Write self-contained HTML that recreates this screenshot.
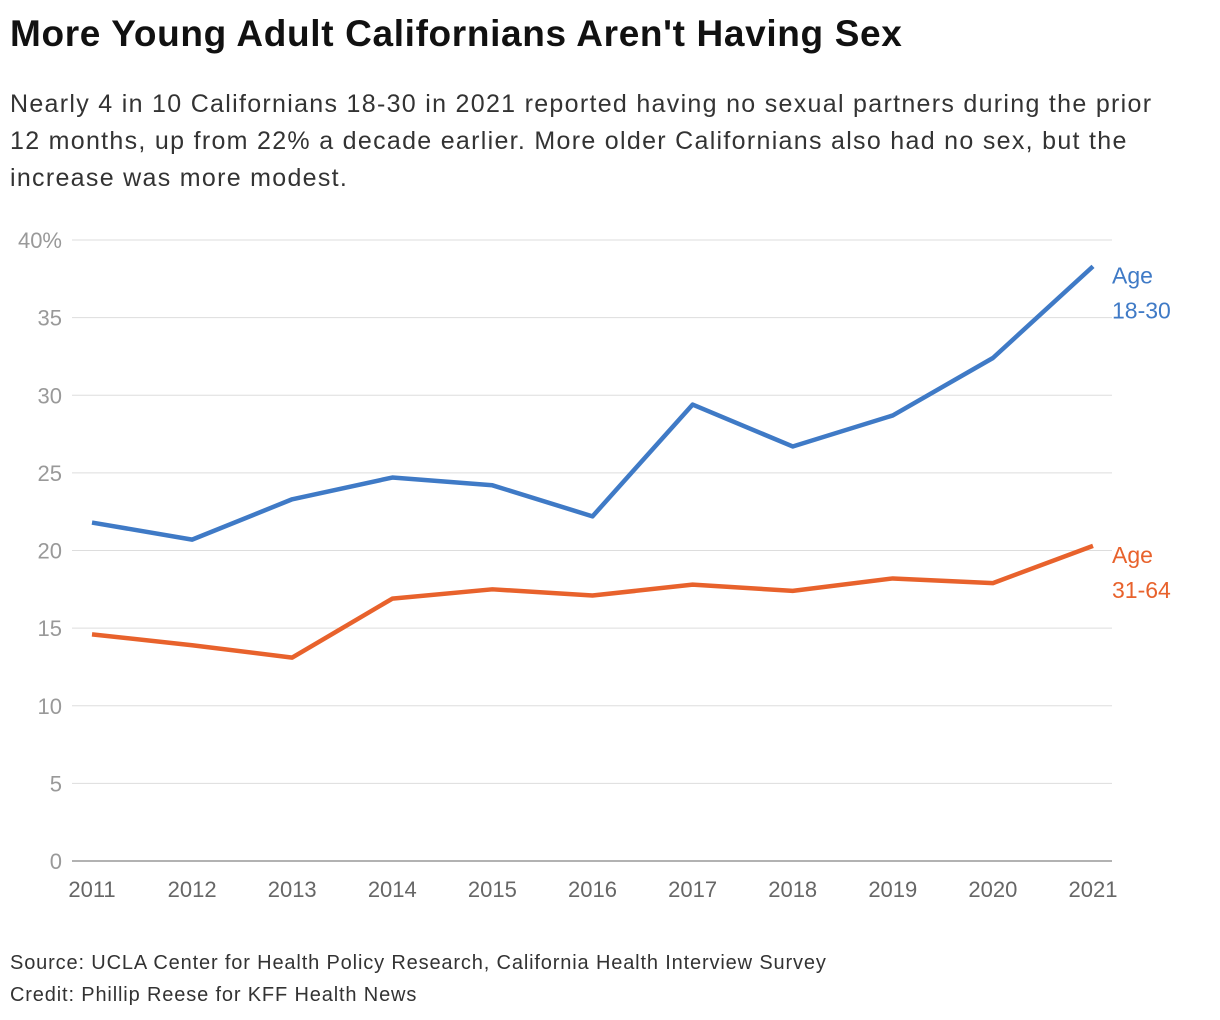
<!DOCTYPE html>
<html><head><meta charset="utf-8"><style>
body{margin:0;background:#fff;width:1220px;height:1020px;overflow:hidden;font-family:"Liberation Sans",sans-serif;}
h1{position:absolute;left:10px;top:13px;margin:0;font-size:37px;font-weight:bold;color:#111;letter-spacing:0.65px;white-space:nowrap}
.sub{position:absolute;left:10px;top:86px;width:1210px;font-size:25px;line-height:37px;color:#333;letter-spacing:1.3px;white-space:nowrap}
.foot{position:absolute;left:10px;font-size:20px;color:#333;letter-spacing:0.85px;white-space:nowrap}
</style></head><body>
<h1>More Young Adult Californians Aren't Having Sex</h1>
<div class="sub">Nearly 4 in 10 Californians 18-30 in 2021 reported having no sexual partners during the prior<br>12 months, up from 22% a decade earlier. More older Californians also had no sex, but the<br>increase was more modest.</div>
<svg id="chart" width="1220" height="1020" style="position:absolute;left:0;top:0"></svg>
<div class="foot" style="top:952px">Source: UCLA Center for Health Policy Research, California Health Interview Survey</div>
<div class="foot" style="top:984px">Credit: Phillip Reese for KFF Health News</div>
<script>
const years=[2011,2012,2013,2014,2015,2016,2017,2018,2019,2020,2021];
const young=[21.8,20.7,23.3,24.7,24.2,22.2,29.4,26.7,28.7,32.4,38.3];
const older=[14.6,13.9,13.1,16.9,17.5,17.1,17.8,17.4,18.2,17.9,20.3];
const yTicks=[0,5,10,15,20,25,30,35,40];
const yTickLabels=["0","5","10","15","20","25","30","35","40%"];
const svg=document.getElementById('chart');
const NS='http://www.w3.org/2000/svg';
const x=v=>92+(v-2011)*100.1;
const y=v=>861-v*15.525;
function mk(t,a){const e=document.createElementNS(NS,t);for(const k in a)e.setAttribute(k,a[k]);svg.appendChild(e);return e;}
yTicks.forEach((t,i)=>{
 const l=mk('line',{x1:72,x2:1112,y1:y(t),y2:y(t),stroke:t===0?'#999':'#ddd','stroke-width':t===0?1.5:1});
 
 
 const tx=mk('text',{x:62,y:y(t)+8,'text-anchor':'end','font-size':22,fill:'#999','font-family':'Liberation Sans, sans-serif'});
 tx.textContent=yTickLabels[i];
 
 
});
years.forEach(yr=>{
 const tx=mk('text',{x:x(yr),y:897,'text-anchor':'middle','font-size':22,fill:'#666','font-family':'Liberation Sans, sans-serif'});
 tx.textContent=yr;
 
 
});
function series(vals,color,name,label){
 const p=mk('polyline',{points:vals.map((v,i)=>x(years[i])+','+y(v)).join(' '),fill:'none',stroke:color,'stroke-width':4.5,'stroke-linejoin':'round'});
 
 
 const last=vals[vals.length-1];
 label.forEach((s,i)=>{
  const t=mk('text',{x:1112,y:y(last)+17+i*35,'font-size':23,fill:color,'font-family':'Liberation Sans, sans-serif'});
  t.textContent=s;
  
  
 });
}
series(young,'#3f7ac6','line-age-18-30',['Age','18-30']);
series(older,'#e8622c','line-age-31-64',['Age','31-64']);
</script>
</body></html>
